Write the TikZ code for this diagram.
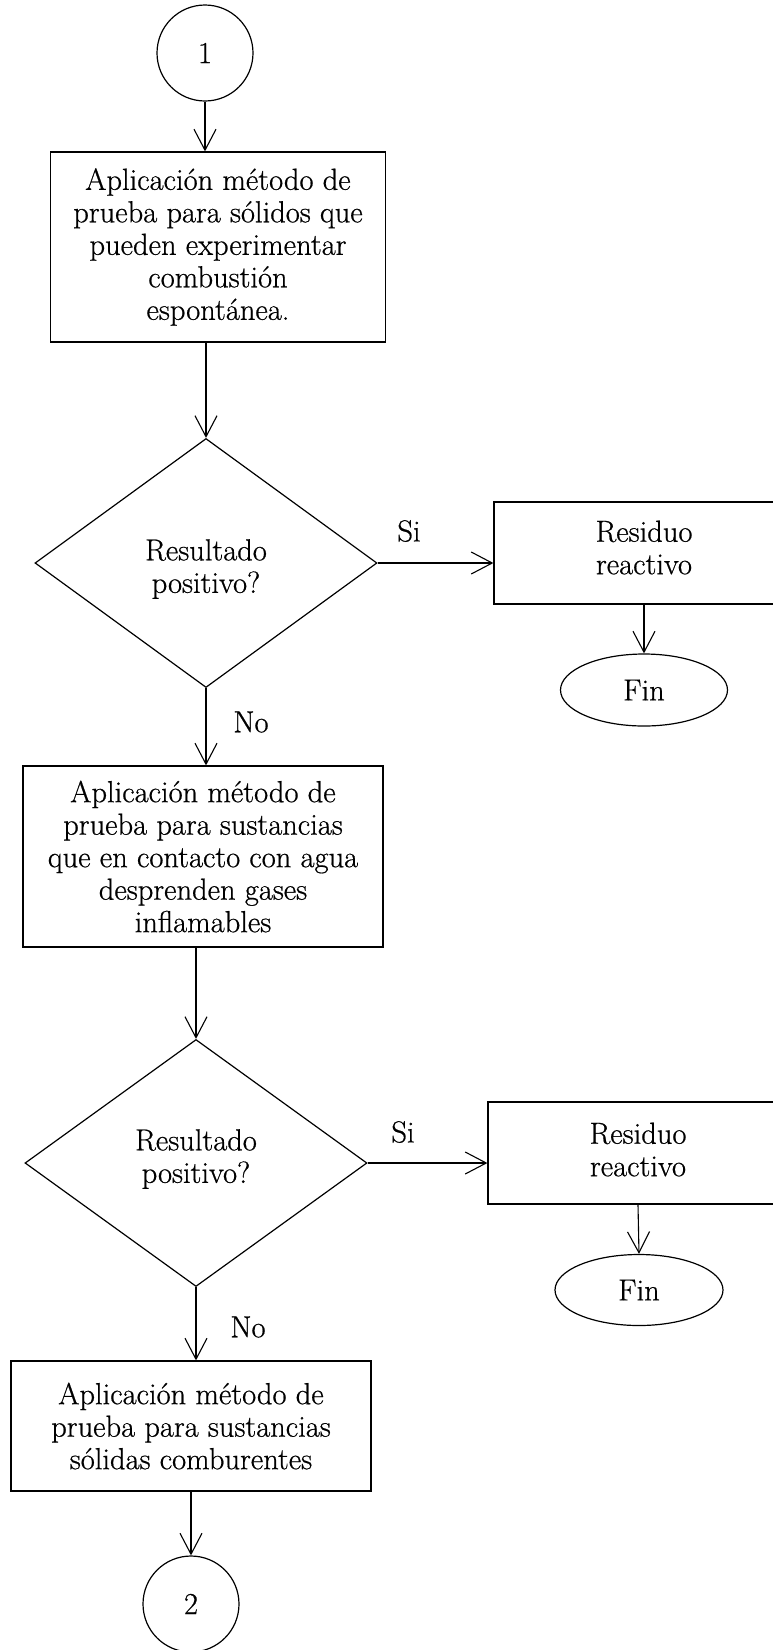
\documentclass[tikz,border=0pt]{standalone}
\usepackage{fontspec}
\setmainfont{Latin Modern Roman}[FakeBold=0.6]
\usetikzlibrary{shapes.geometric,arrows.meta}
\begin{document}
\begin{tikzpicture}[x=1pt,y=-1pt,
  every node/.style={font=\fontsize{30.5}{32.5}\selectfont},
  box/.style={draw, rectangle, line width=1.2pt, align=center, inner sep=0pt},
  dec/.style={draw, diamond, line width=1.2pt, inner sep=0pt},
  term/.style={draw, ellipse, line width=1.2pt, inner sep=0pt},
  conn/.style={draw, circle, line width=1.2pt, inner sep=0pt, minimum size=96pt},
  txt/.style={align=center, inner sep=0pt},
  arr/.style={line width=1.1pt, -{Straight Barb[length=21pt,width=22pt,line width=1.1pt]}},
  lbl/.style={inner sep=0pt}]
\useasboundingbox (0,0) rectangle (773,1650);
\clip (0,0) rectangle (773,1650);

\node[conn] (c1) at (205,53) {1};
\node[box, minimum width=335pt, minimum height=190pt] (b1) at (218,247)
  {Aplicación método de\\prueba para sólidos que\\pueden experimentar\\combustión\\espontánea.};
\node[dec, minimum width=342pt, minimum height=249pt] (d1) at (206,563) {};
\node[txt] (d1t) at (206,569) {Resultado\\positivo?};
\node[box, minimum width=300pt, minimum height=102pt] (r1) at (644,553) {};
\node[txt] (r1t) at (644,547.5) {Residuo\\reactivo};
\node[term, minimum width=167pt, minimum height=72pt] (f1) at (644,690) {Fin};
\node[lbl] (si1) at (409,531) {Si};
\node[lbl] (no1) at (251,722) {No};

\node[box, minimum width=360pt, minimum height=181pt] (b2) at (203,856.5)
  {Aplicación método de\\prueba para sustancias\\que en contacto con agua\\desprenden gases\\inflamables};
\node[dec, minimum width=342pt, minimum height=247pt] (d2) at (196,1163) {};
\node[txt] (d2t) at (196,1159) {Resultado\\positivo?};
\node[box, minimum width=300pt, minimum height=102pt] (r2) at (638,1153) {};
\node[txt] (r2t) at (638,1149.5) {Residuo\\reactivo};
\node[term, minimum width=168pt, minimum height=71pt] (f2) at (639,1290) {Fin};
\node[lbl] (si2) at (403,1132) {Si};
\node[lbl] (no2) at (248,1327) {No};

\node[box, minimum width=360pt, minimum height=130pt] (b3) at (191,1426)
  {Aplicación método de\\prueba para sustancias\\sólidas comburentes};
\node[conn] (c2) at (191,1604) {2};

\draw[arr] (c1.south) -- (c1.south |- b1.north);
\draw[arr] (d1.north |- b1.south) -- (d1.north);
\draw[arr] (d1.east) -- (d1.east -| r1.west);
\draw[arr] (r1.south) -- (f1.north);
\draw[arr] (d1.south) -- (d1.south |- b2.north);
\draw[arr] (d2.north |- b2.south) -- (d2.north);
\draw[arr] (d2.east) -- (d2.east -| r2.west);
\draw[arr] (r2.south) -- (f2.north);
\draw[arr] (d2.south) -- (d2.south |- b3.north);
\draw[arr] (c2.north |- b3.south) -- (c2.north);
\end{tikzpicture}
\end{document}
